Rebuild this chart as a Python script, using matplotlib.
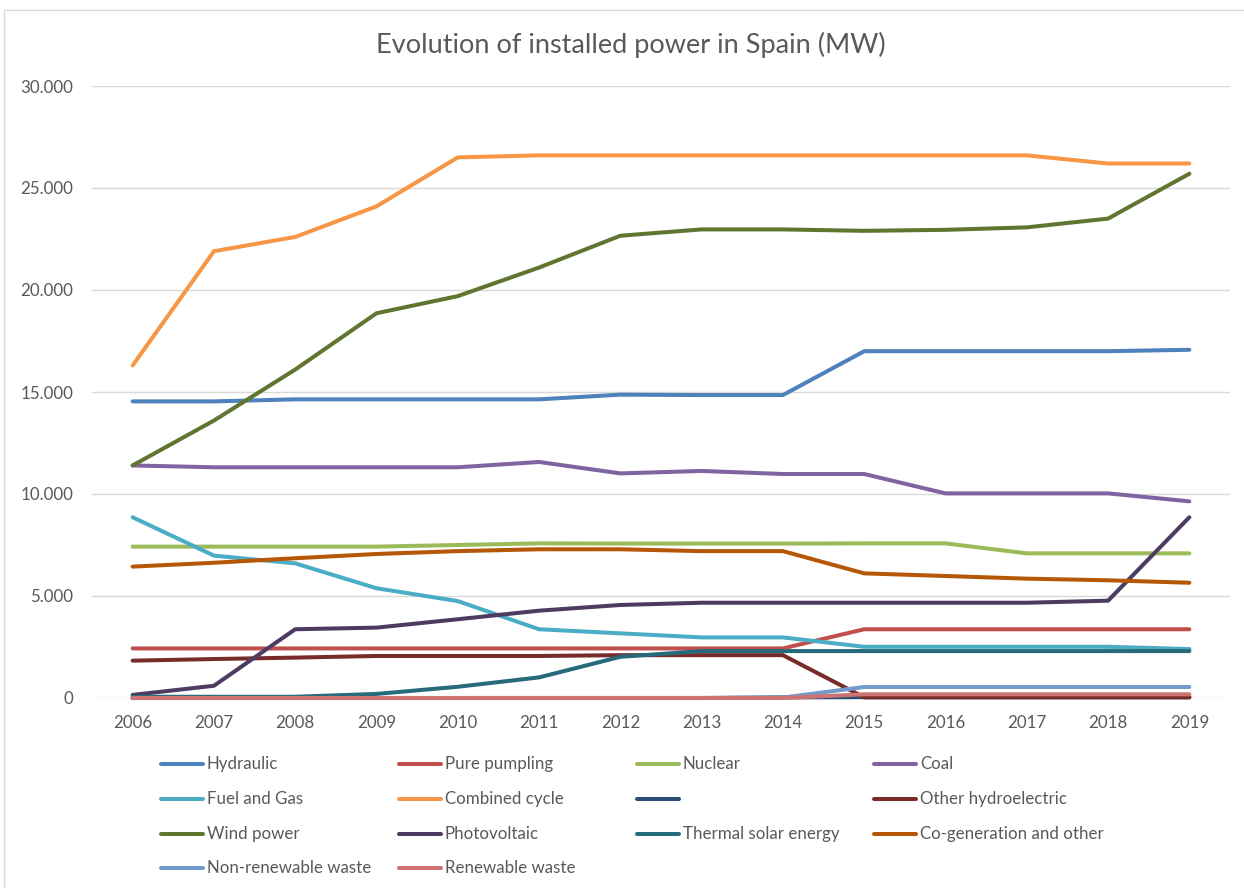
import matplotlib
matplotlib.use("Agg")
import matplotlib.pyplot as plt
from matplotlib.lines import Line2D
from matplotlib.patches import Rectangle
from matplotlib.ticker import FuncFormatter

plt.rcParams['font.family'] = ['Lato', 'DejaVu Sans']

years = list(range(2006, 2020))

hydraulic = [14540, 14540, 14640, 14640, 14640, 14640, 14870, 14850, 14850, 17000, 17000, 17000, 17000, 17070]
pure_pumping = [2430, 2430, 2430, 2430, 2430, 2430, 2430, 2430, 2430, 3370, 3370, 3370, 3370, 3370]
nuclear = [7420, 7420, 7420, 7420, 7500, 7580, 7570, 7570, 7570, 7580, 7580, 7090, 7090, 7090]
coal = [11400, 11310, 11310, 11310, 11310, 11570, 11010, 11130, 10980, 10980, 10030, 10030, 10030, 9640]
fuel_gas = [8860, 6980, 6600, 5380, 4750, 3370, 3170, 2970, 2970, 2510, 2510, 2510, 2510, 2400]
combined_cycle = [16300, 21900, 22600, 24100, 26500, 26600, 26600, 26600, 26600, 26600, 26600, 26600, 26200, 26200]
unnamed = [0, 0, 0, 0, 0, 0, 0, 0, 30, 40, 40, 40, 40, 40]
other_hydro = [1830, 1910, 1980, 2060, 2060, 2060, 2100, 2100, 2100, 30, 30, 30, 30, 30]
wind = [11400, 13600, 16100, 18860, 19700, 21100, 22660, 22970, 22970, 22900, 22950, 23070, 23500, 25700]
photovoltaic = [150, 600, 3370, 3450, 3860, 4280, 4560, 4670, 4670, 4670, 4670, 4670, 4770, 8860]
thermal_solar = [60, 60, 60, 200, 550, 1010, 2020, 2300, 2300, 2300, 2300, 2300, 2300, 2300]
cogeneration = [6440, 6630, 6850, 7060, 7200, 7290, 7290, 7200, 7200, 6110, 5980, 5850, 5770, 5650]
nonrenew_waste = [0, 0, 0, 0, 0, 0, 0, 0, 20, 540, 540, 540, 540, 540]
renew_waste = [0, 0, 0, 0, 0, 0, 0, 0, 0, 180, 180, 180, 180, 180]

series = [
    ("Hydraulic", hydraulic, "#4F81BD"),
    ("Pure pumpling", pure_pumping, "#C0504D"),
    ("Nuclear", nuclear, "#9BBB59"),
    ("Coal", coal, "#8064A2"),
    ("Fuel and Gas", fuel_gas, "#4BACC6"),
    ("Combined cycle", combined_cycle, "#F79646"),
    ("", unnamed, "#2C4D75"),
    ("Other hydroelectric", other_hydro, "#772C2A"),
    ("Wind power", wind, "#5F7530"),
    ("Photovoltaic", photovoltaic, "#4D3B62"),
    ("Thermal solar energy", thermal_solar, "#276A7C"),
    ("Co-generation and other", cogeneration, "#B65708"),
    ("Non-renewable waste", nonrenew_waste, "#729ACA"),
    ("Renewable waste", renew_waste, "#CD7371"),
]

W, H = 1244, 888
fig = plt.figure(figsize=(W / 100, H / 100), dpi=100)
fig.patch.set_facecolor("white")

# chart border
fig.add_artist(Rectangle((4 / W, -0.05), 1.2, 1 - 10 / H + 0.05, transform=fig.transFigure,
                         fill=False, edgecolor="#D9D9D9", linewidth=1.0))

ax = fig.add_axes([92 / W, 1 - 698 / H, (1230 - 92) / W, (698 - 86) / H])
ax.set_xlim(2005.5, 2019.5)
ax.set_ylim(0, 30000)
ax.set_yticks(range(0, 30001, 5000))
ax.set_xticks(years)
ax.yaxis.set_major_formatter(FuncFormatter(lambda v, p: f"{int(v):,}".replace(",", ".")))
ax.grid(axis="y", color="#D9D9D9", linewidth=1.0)
ax.set_axisbelow(True)
for s in ax.spines.values():
    s.set_visible(False)
ax.tick_params(length=0, colors="#595959", labelsize=12.2)
ax.tick_params(axis="x", pad=12)
ax.tick_params(axis="y", pad=13.5)

for name, vals, color in series:
    ax.plot(years, vals, color=color, linewidth=2.9, solid_capstyle="round",
            solid_joinstyle="round", clip_on=False)

fig.text(631 / W, 1 - 45 / H, "Evolution of installed power in Spain (MW)",
         ha="center", va="center", fontsize=19.5, color="#595959")

# legend: 4 columns, row-major order
col_x = [161, 399, 637, 874]
row_y = [764, 799, 834, 868]
for i, (name, vals, color) in enumerate(series):
    r, c = divmod(i, 4)
    x0 = col_x[c]
    y0 = 1 - row_y[r] / H
    fig.add_artist(Line2D([x0 / W, (x0 + 42) / W], [y0, y0], transform=fig.transFigure,
                          color=color, linewidth=2.9, solid_capstyle="round"))
    if name:
        fig.text((x0 + 46) / W, y0, name, ha="left", va="center", fontsize=12.2, color="#595959")

fig.savefig("out.png", dpi=100, facecolor="white")
